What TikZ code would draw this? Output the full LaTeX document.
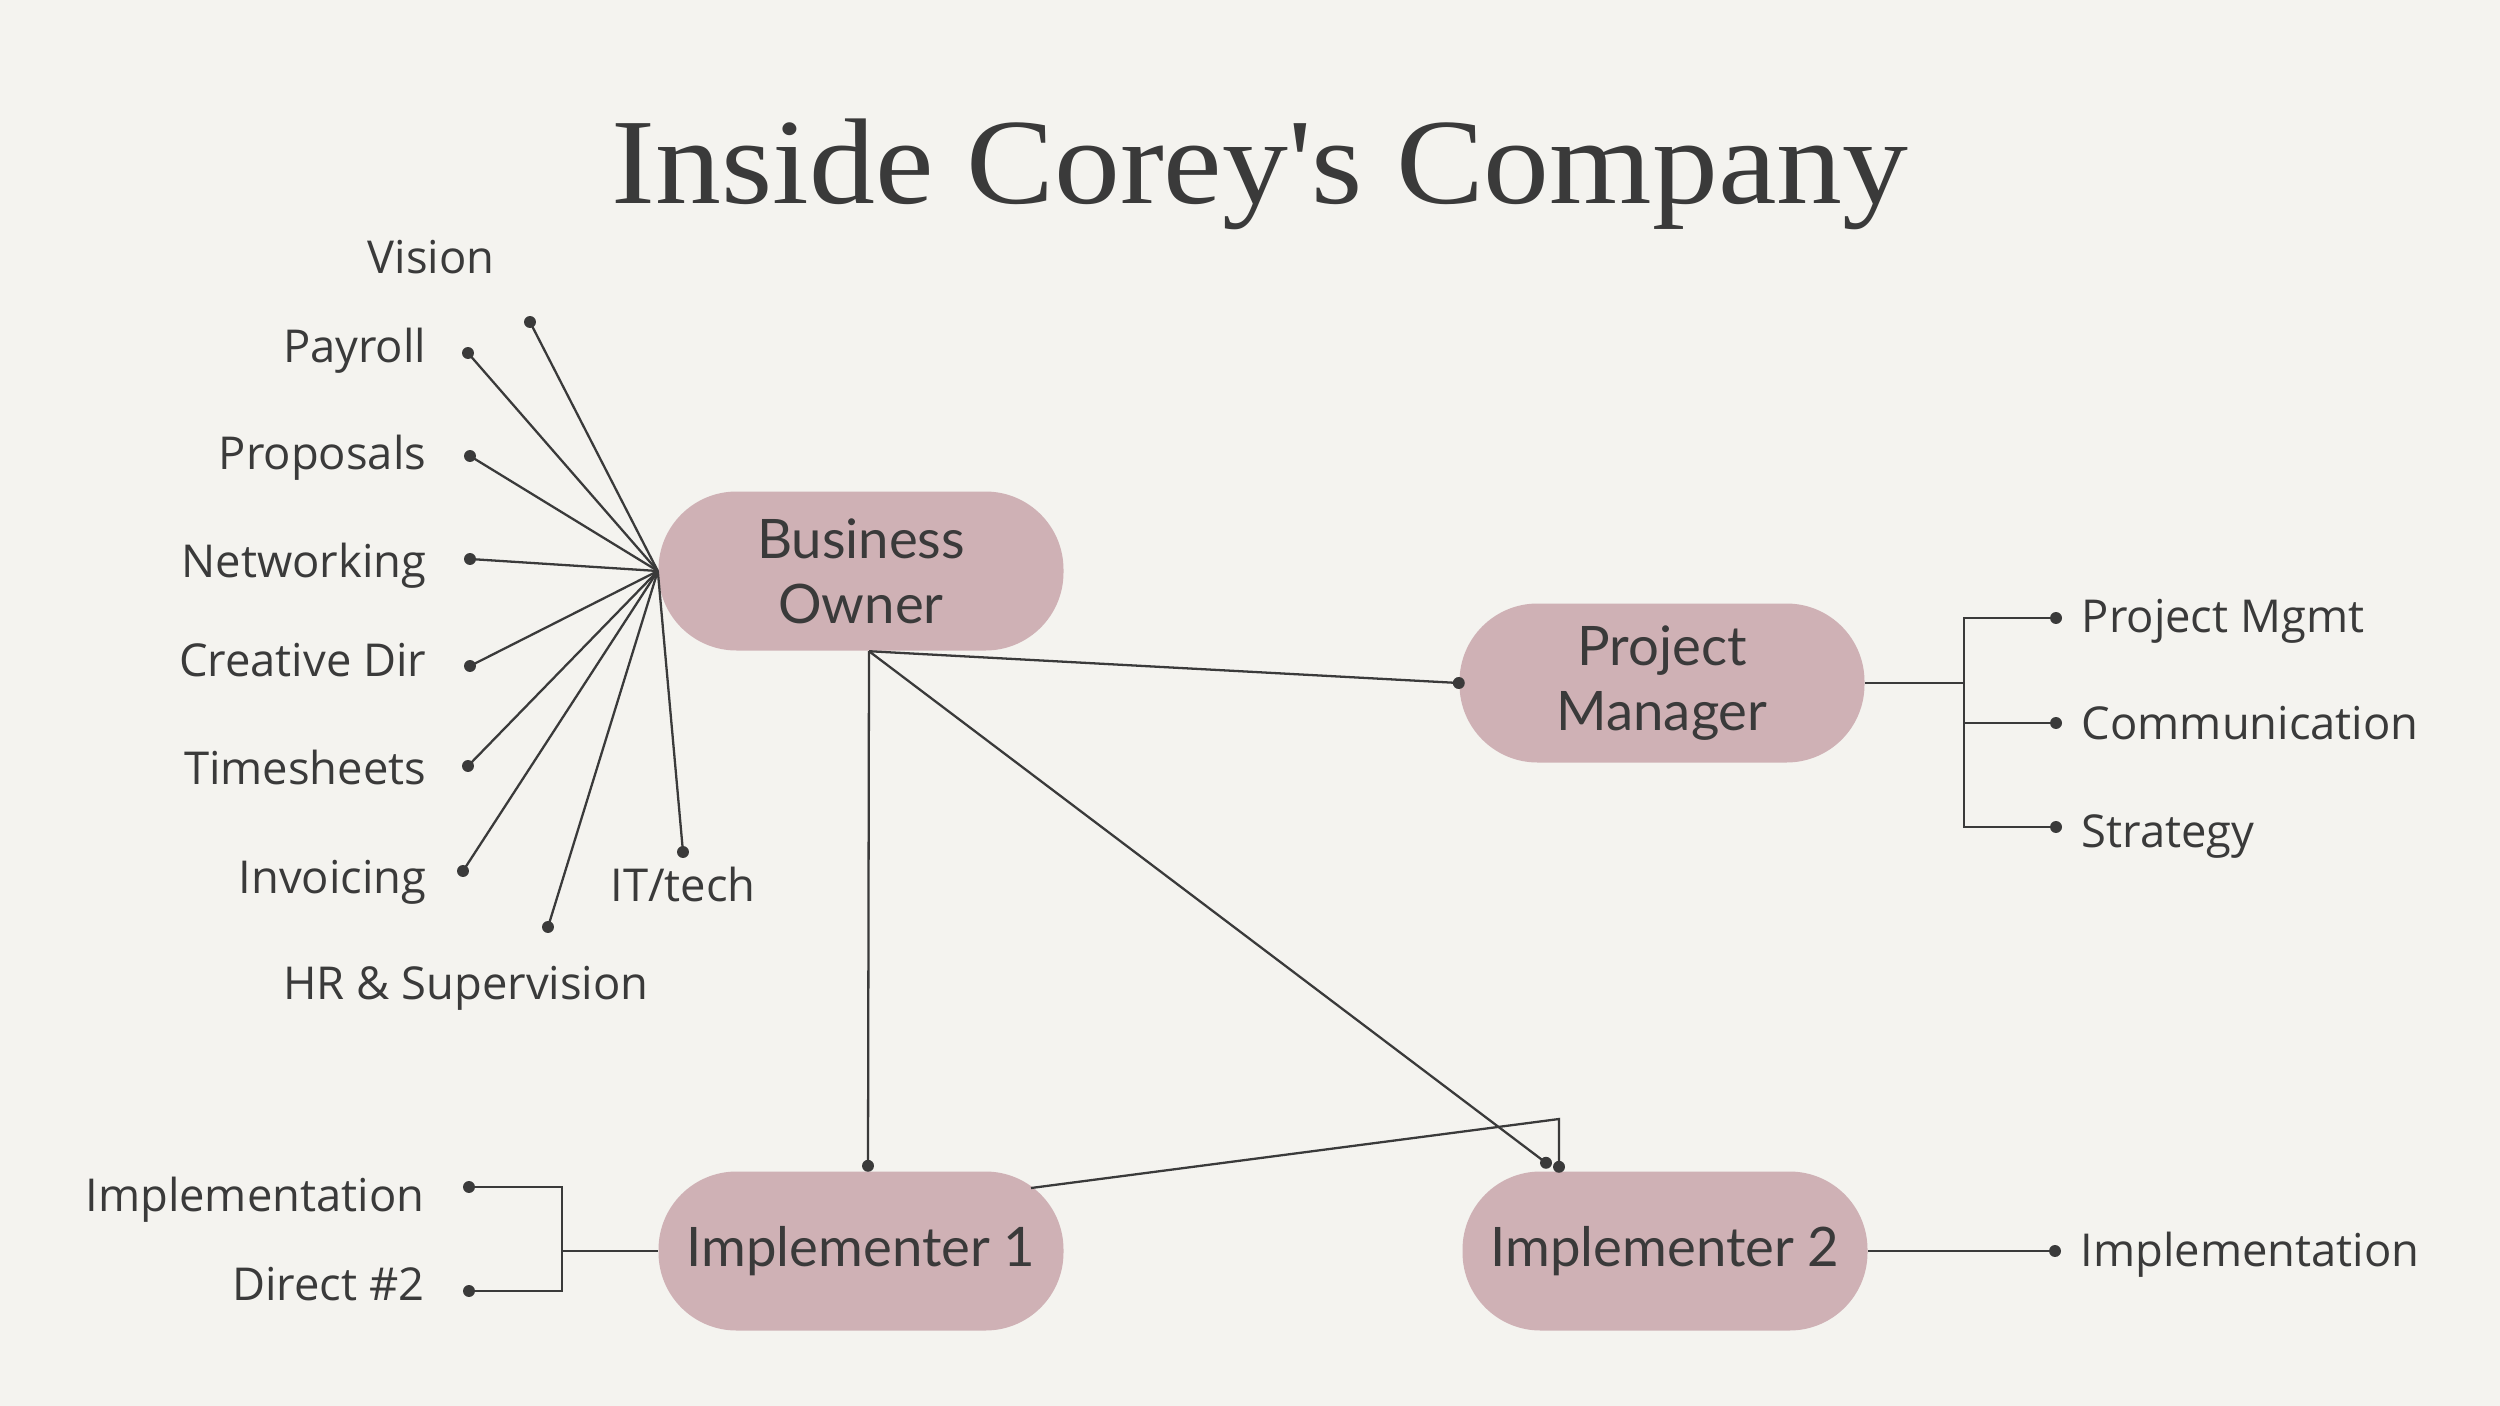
\documentclass[tikz,border=0pt]{standalone}
\usepackage{fontspec}
\setmainfont{Open Sans}
\newfontfamily\titlefont[FakeStretch=1.08]{Liberation Serif}
\newfontfamily\boxfont{Lato}
\usetikzlibrary{calc}
\definecolor{paper}{HTML}{F4F3EF}
\definecolor{rosebox}{HTML}{CFB1B5}
\definecolor{ink}{HTML}{3A3A3A}

\begin{document}
\begin{tikzpicture}[
    role/.style={fill=rosebox, rounded corners=0.78cm, minimum width=4.05cm,
                 minimum height=1.59cm, align=center, text=ink, inner sep=0pt,
                 font=\boxfont\fontsize{15.5}{18.5}\selectfont},
    lbl/.style={text=ink, inner sep=0pt, font=\fontsize{12.9}{15.5}\selectfont},
    wire/.style={draw=ink, line width=0.65pt},
    dot/.style={circle, fill=ink, inner sep=0pt, minimum size=3.4pt}
  ]
    \fill[paper] (0,0) rectangle (25,-14.06);
    \useasboundingbox (0,0) rectangle (25,-14.06);

    \node[anchor=base, text=ink, font=\titlefont\fontsize{34.7}{40}\selectfont]
      (title) at (12.6,-2.04) {Inside Corey's Company};

    % roles
    \node[role] (bo)   at (8.61,-5.71)  {Business\\Owner};
    \node[role] (pm)   at (16.62,-6.83) {Project\\Manager};
    \node[role] (imp1) at (8.61,-12.51) {Implementer 1};
    \node[role] (imp2) at (16.65,-12.51) {Implementer 2};

    % owner tasks
    \node[dot] (vis)  at (5.30,-3.22) {};
    \node[dot] (pay)  at (4.68,-3.53) {};
    \node[dot] (prop) at (4.70,-4.56) {};
    \node[dot] (net)  at (4.70,-5.59) {};
    \node[dot] (cre)  at (4.70,-6.66) {};
    \node[dot] (tim)  at (4.68,-7.66) {};
    \node[dot] (inv)  at (4.63,-8.71) {};
    \node[dot] (hr)   at (5.48,-9.27) {};
    \node[dot] (it)   at (6.83,-8.52) {};
    \foreach \t in {vis,pay,prop,net,cre,tim,inv,hr,it}
      \draw[wire] (bo.west) -- (\t.center);

    \node[lbl, anchor=base]      (visT)  at (4.31,-2.73) {Vision};
    \node[lbl, anchor=base east] (payT)  at (4.27,-3.62) {Payroll};
    \node[lbl, anchor=base east] (propT) at (4.27,-4.69) {Proposals};
    \node[lbl, anchor=base east] (netT)  at (4.27,-5.77) {Networking};
    \node[lbl, anchor=base east] (creT)  at (4.27,-6.76) {Creative Dir};
    \node[lbl, anchor=base east] (timT)  at (4.27,-7.84) {Timesheets};
    \node[lbl, anchor=base east] (invT)  at (4.27,-8.93) {Invoicing};
    \node[lbl, anchor=base]      (hrT)   at (4.66,-9.99) {HR \& Supervision};
    \node[lbl, anchor=base]      (itT)   at (6.83,-9.01) {IT/tech};

    % links between roles
    \coordinate (boFoot) at ([xshift=0.08cm]bo.south);
    \node[dot] (pmIn)   at (pm.west) {};
    \node[dot] (imp1In) at ([xshift=0.07cm,yshift=0.05cm]imp1.north) {};
    \node[dot] (imp2In) at ([xshift=-1.19cm,yshift=0.08cm]imp2.north) {};
    \node[dot] (imp2Up) at ([xshift=-1.06cm,yshift=0.04cm]imp2.north) {};
    \coordinate (imp1Out) at ($(imp1.center)+(1.70,0.63)$);
    \coordinate (elbow) at (15.59,-11.19);
    \draw[wire] (boFoot) -- (pmIn.center);
    \draw[wire] (boFoot) -- (imp1In.center);
    \draw[wire] (boFoot) -- (imp2In.center);
    \draw[wire] (imp1Out) -- (elbow) -- (imp2Up.center);

    % manager tasks
    \node[dot] (pmA) at (20.56,-6.18) {};
    \node[dot] (pmB) at (20.56,-7.23) {};
    \node[dot] (pmC) at (20.56,-8.27) {};
    \coordinate (pmJoin) at (19.64,-6.83);
    \draw[wire] (pm.east) -- (pmJoin);
    \draw[wire] (pmA.center) -| (pmJoin) |- (pmC.center);
    \draw[wire] (pmJoin |- pmB) -- (pmB.center);
    \node[lbl, anchor=base west] (pmAT) at (20.81,-6.32) {Project Mgmt};
    \node[lbl, anchor=base west] (pmBT) at (20.81,-7.39) {Communication};
    \node[lbl, anchor=base west] (pmCT) at (20.81,-8.47) {Strategy};

    % implementer tasks
    \node[dot] (i1A) at (4.69,-11.87) {};
    \node[dot] (i1B) at (4.69,-12.91) {};
    \coordinate (i1Join) at (5.62,-12.51);
    \draw[wire] (imp1.west) -- (i1Join);
    \draw[wire] (i1A.center) -| (i1Join) |- (i1B.center);
    \node[lbl, anchor=base east] (i1AT) at (4.25,-12.11) {Implementation};
    \node[lbl, anchor=base east] (i1BT) at (4.25,-13.00) {Direct \#2};

    \node[dot] (i2A) at (20.55,-12.51) {};
    \draw[wire] (imp2.east) -- (i2A.center);
    \node[lbl, anchor=base west] (i2AT) at (20.80,-12.66) {Implementation};
  \end{tikzpicture}
\end{document}
